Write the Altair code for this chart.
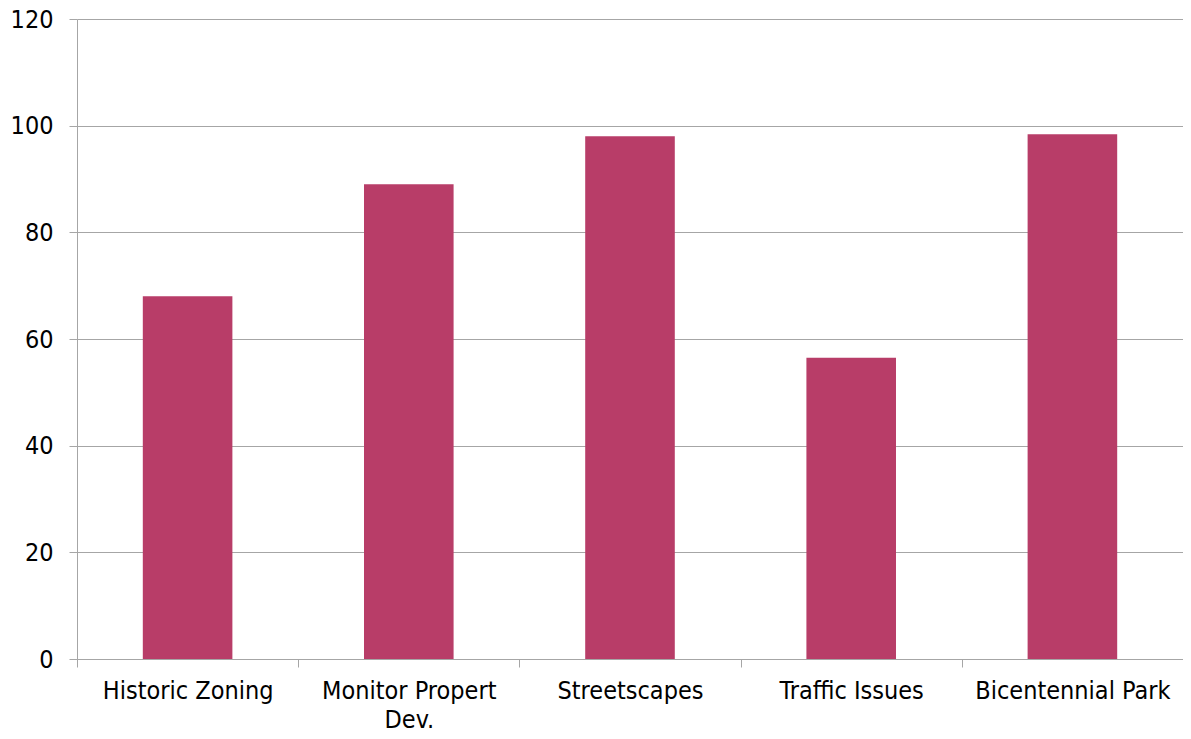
import altair as alt
import pandas as pd

categories = ["Historic Zoning", "Monitor Propert Dev.", "Streetscapes", "Traffic Issues", "Bicentennial Park"]
values = [68, 89, 98, 56.5, 98.4]
y_ticks = [0, 20, 40, 60, 80, 100, 120]

df = pd.DataFrame({"category": categories, "value": values})

FONT = "DejaVu Sans Condensed"
GRAY = "#A6A6A6"

chart = alt.Chart(df).mark_bar(
    color="#B83D68", width=alt.RelativeBandSize(0.405)
).encode(
    x=alt.X(
        "category:N", sort=categories, title=None,
        scale=alt.Scale(paddingInner=0, paddingOuter=0),
        axis=alt.Axis(
            labelAngle=0, tickBand="extent", grid=False,
            domainColor=GRAY, tickColor=GRAY, tickSize=8,
            labelFont=FONT, labelFontSize=25, labelColor="black",
            labelPadding=11, labelLineHeight=29, labelLimit=0,
            labelOverlap=False,
            labelExpr="datum.value == 'Monitor Propert Dev.' ? ['Monitor Propert', 'Dev.'] : datum.value",
        ),
    ),
    y=alt.Y(
        "value:Q", title=None,
        scale=alt.Scale(domain=[0, 120], nice=False),
        axis=alt.Axis(
            values=y_ticks, grid=True, gridColor=GRAY, gridWidth=1,
            domainColor=GRAY, tickColor=GRAY, tickSize=8,
            labelFont=FONT, labelFontSize=25, labelColor="black",
            labelPadding=16,
        ),
    ),
).properties(
    width=1106, height=640,
    autosize=alt.AutoSizeParams(type="none"),
    padding={"left": 69, "top": 11, "right": 0, "bottom": 76},
).configure_view(stroke=None)

chart.save("out.html", embed_options={"renderer": "svg", "actions": False})
